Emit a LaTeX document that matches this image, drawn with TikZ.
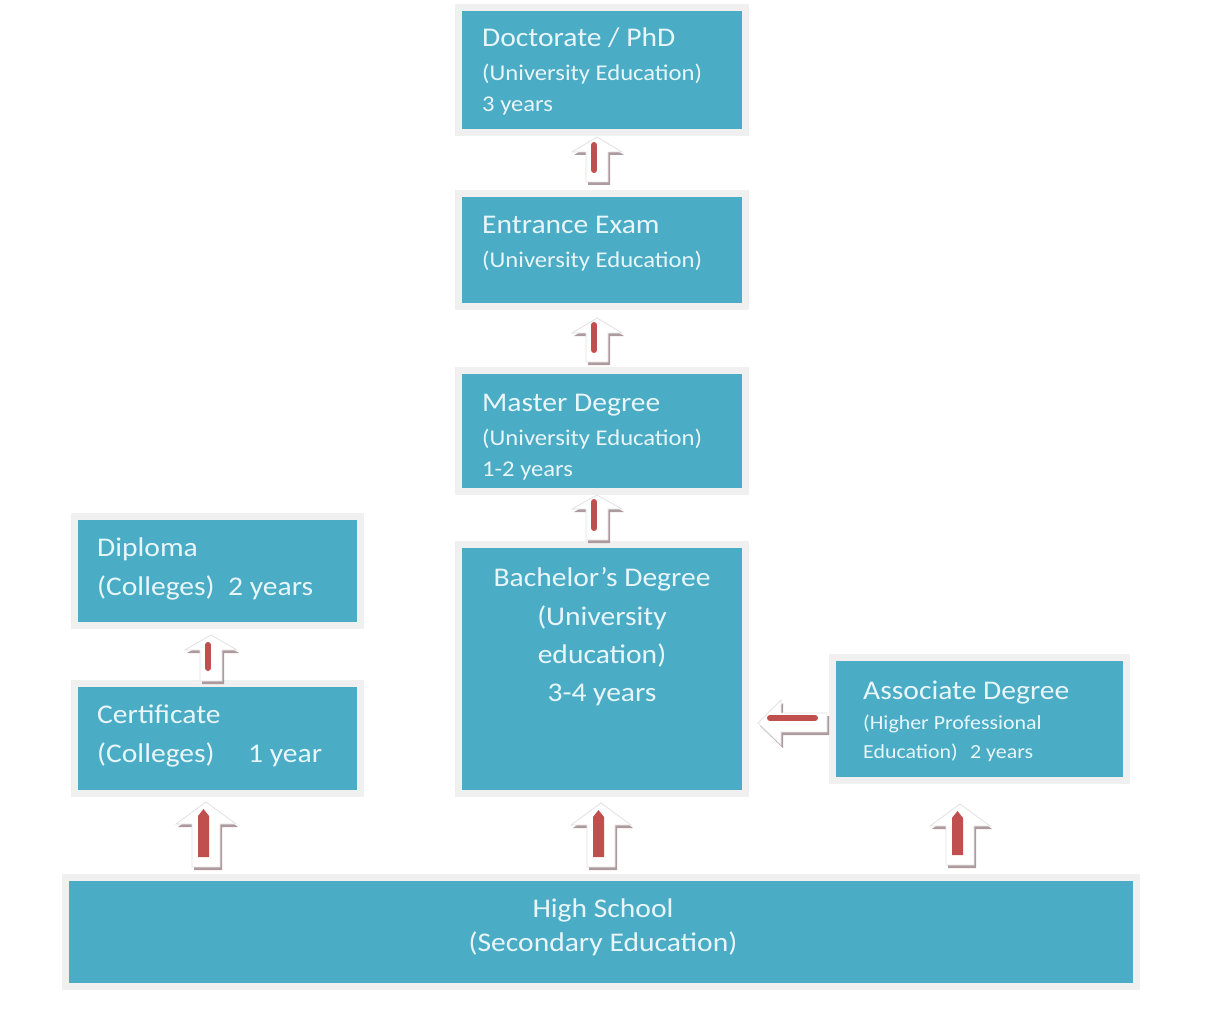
\documentclass[tikz,border=0pt]{standalone}
\usepackage{fontspec}
\setmainfont{Carlito}[FakeStretch=1.095]
\definecolor{boxteal}{HTML}{4BACC6}
\definecolor{boxgray}{HTML}{F0F0F0}
\definecolor{boxtext}{HTML}{E8F6FA}
\definecolor{arrshadow}{HTML}{AC9A9E}
\definecolor{arrline}{HTML}{E2E2E2}
\definecolor{redbar}{HTML}{C0504D}
\tikzset{
  box/.style={draw=boxgray, line width=7pt, fill=boxteal, inner sep=0pt, outer sep=0pt},
  txt/.style={text=boxtext, inner sep=0pt, anchor=base west},
  txtc/.style={text=boxtext, inner sep=0pt, anchor=base},
  fbig/.style={font=\fontsize{27}{27}\selectfont},
  fmid/.style={font=\fontsize{22.5}{22.5}\selectfont},
  fsmall/.style={font=\fontsize{20}{20}\selectfont},
  arrbody/.style={fill=white, draw=arrline, line width=0.8pt, line join=miter},
  arrshad/.style={fill=arrshadow},
  redline/.style={draw=redbar, line cap=round},
}
% up block arrow: #1 cx, #2 tip y, #3 shoulder y, #4 bottom y, #5 head half, #6 shaft half
\newcommand\upblock[6]{%
  \fill[arrshad] ({#1+2},{#2+3}) -- ({#1+#5+2},{#3+3}) -- ({#1+#6+2},{#3+3}) -- ({#1+#6+2},{#4+3})
     -- ({#1-#6+2},{#4+3}) -- ({#1-#6+2},{#3+3}) -- ({#1-#5+2},{#3+3}) -- cycle;
  \path[arrbody] (#1,#2) -- ({#1+#5},#3) -- ({#1+#6},#3) -- ({#1+#6},#4)
     -- ({#1-#6},#4) -- ({#1-#6},#3) -- ({#1-#5},#3) -- cycle;
}
\begin{document}
\begin{tikzpicture}[x=1pt,y=-1pt]
\useasboundingbox (0,0) rectangle (1205,1027);
\fill[white] (0,0) rectangle (1205,1027);

% boxes
\node[box, minimum width=287pt, minimum height=125pt] (doc) at (602,70) {};
\node[box, minimum width=287pt, minimum height=113pt] (ent) at (602,250) {};
\node[box, minimum width=287pt, minimum height=121pt] (mas) at (602,431) {};
\node[box, minimum width=287pt, minimum height=249pt] (bac) at (602,669) {};
\node[box, minimum width=286pt, minimum height=109pt] (dip) at (217.5,571) {};
\node[box, minimum width=286pt, minimum height=110pt] (cer) at (217.5,738.5) {};
\node[box, minimum width=294pt, minimum height=123pt] (aso) at (979.5,719) {};
\node[box, minimum width=1071pt, minimum height=109pt] (hs) at (601,932) {};

% texts
\node[txt, fbig] (doc1) at (482,47) {Doctorate / PhD};
\node[txt, fmid] (doc2) at (482,81) {(University Education)};
\node[txt, fmid] (doc3) at (482,112) {3 years};

\node[txt, fbig] (ent1) at (482,234) {Entrance Exam};
\node[txt, fmid] (ent2) at (482,268) {(University Education)};

\node[txt, fbig] (mas1) at (482,411) {Master Degree};
\node[txt, fmid] (mas2) at (482,445) {(University Education)};
\node[txt, fmid] (mas3) at (482,476) {1-2 years};

\node[txtc, fbig] (bac1) at (602,586) {Bachelor’s Degree};
\node[txtc, fbig] (bac2) at (602,625) {(University};
\node[txtc, fbig] (bac3) at (602,663) {education)};
\node[txtc, fbig] (bac4) at (602,701) {3-4 years};

\node[txt, fbig] (dip1) at (97,556) {Diploma};
\node[txt, fbig] (dip2) at (97,595) {\makebox[131pt][l]{(Colleges)}2 years};

\node[txt, fbig] (cer1) at (97,723) {Certificate};
\node[txt, fbig] (cer2) at (97,762) {\makebox[151pt][l]{(Colleges)}1 year};

\node[txt, fbig] (aso1) at (863,699) {Associate Degree};
\node[txt, fsmall] (aso2) at (863,729) {(Higher Professional};
\node[txt, fsmall] (aso3) at (863,758) {\makebox[107pt][l]{Education)}2 years};

\node[txtc, fbig] (hs1) at (603,917) {High School};
\node[txtc, fbig] (hs2) at (603,951) {(Secondary Education)};

% small up arrows
\upblock{597}{137}{152}{182}{25}{11}
\draw[redline, line width=6pt] (594,145) -- (594,170);
\upblock{597}{318}{333}{362}{25}{11}
\draw[redline, line width=6pt] (594,325) -- (594,350);
\upblock{597}{495}{509}{540}{25}{11}
\draw[redline, line width=6pt] (594,502) -- (594,528);
\upblock{211}{635}{650}{681}{26}{11}
\draw[redline, line width=6pt] (208,645) -- (208,668);

% big up arrows
\upblock{206}{802}{824}{867}{30}{14}
\fill[redbar] (198,857) -- (198,816) -- (203.5,809) -- (209,816) -- (209,857) -- cycle;
\upblock{601}{803}{825}{867}{30}{14}
\fill[redbar] (593,857) -- (593,817) -- (598.5,810) -- (604,817) -- (604,857) -- cycle;
\upblock{960}{804}{826}{865}{30}{14}
\fill[redbar] (952,855) -- (952,818) -- (957.5,811) -- (963,818) -- (963,855) -- cycle;

% left arrow from associate to bachelor
\fill[arrshad] (760,726) -- (783,703) -- (783,716) -- (829,716) -- (829,735) -- (783,735) -- (783,748) -- cycle;
\path[arrbody] (758,723) -- (781,700) -- (781,713) -- (827,713) -- (827,732) -- (781,732) -- (781,745) -- cycle;
\draw[redline, line width=6pt] (770,718) -- (815,718);
\end{tikzpicture}
\end{document}
